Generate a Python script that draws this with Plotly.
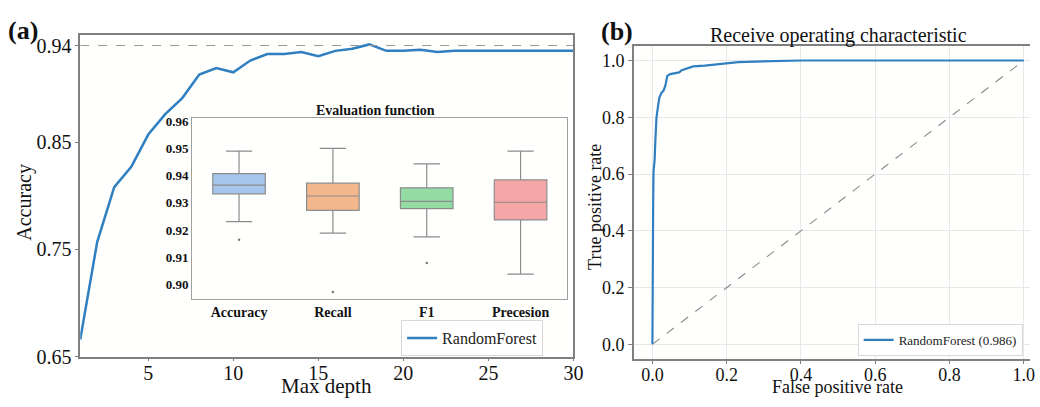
import plotly.graph_objects as go

# ---------------- data ----------------
depth = list(range(1, 31))
accuracy = [0.666, 0.757, 0.808, 0.827, 0.857, 0.876, 0.891, 0.913, 0.919, 0.915,
            0.926, 0.932, 0.932, 0.934, 0.930, 0.935, 0.937, 0.941, 0.935, 0.935,
            0.936, 0.934, 0.935, 0.935, 0.935, 0.935, 0.935, 0.935, 0.935, 0.935]
best_acc = 0.94

metrics = ["Accuracy", "Recall", "F1", "Precesion"]
q1 = [0.9333, 0.9272, 0.9279, 0.9237]
med = [0.9365, 0.9325, 0.9305, 0.9302]
q3 = [0.9407, 0.9372, 0.9355, 0.9384]
lowf = [0.9231, 0.9189, 0.9175, 0.9038]
upf = [0.9490, 0.9500, 0.9443, 0.9490]
outlier_x = ["Accuracy", "Recall", "F1"]
outlier_y = [0.9164, 0.8973, 0.9079]
box_colors = ["#a6c6ec", "#f2b78c", "#93dca4", "#f4a7a6"]

fpr = [0.000, 0.000, 0.002, 0.003, 0.006, 0.008, 0.009, 0.011, 0.016, 0.019,
       0.024, 0.030, 0.035, 0.040, 0.048, 0.061, 0.072, 0.079, 0.097, 0.110,
       0.141, 0.177, 0.209, 0.231, 0.276, 0.338, 0.400, 1.000]
tpr = [0.000, 0.340, 0.490, 0.610, 0.650, 0.720, 0.760, 0.800, 0.848, 0.870,
       0.885, 0.894, 0.912, 0.946, 0.952, 0.955, 0.958, 0.966, 0.972, 0.979,
       0.982, 0.987, 0.990, 0.994, 0.996, 0.998, 1.000, 1.000]
auc_label = "RandomForest (0.986)"

# ---------------- figure ----------------
W, H = 1040, 407
SERIF = "Liberation Serif"
BLUE = "#2f7fc1"
AX = "#808080"


def px(x):
    return x / W


def py(y):
    return 1 - y / H


fig = go.Figure()

# left: accuracy vs depth
fig.add_trace(go.Scatter(x=depth, y=accuracy, mode="lines", name="RandomForest",
                         line=dict(color=BLUE, width=2.5), xaxis="x", yaxis="y",
                         legend="legend"))
fig.add_trace(go.Scatter(x=[1, 30], y=[best_acc, best_acc], mode="lines",
                         line=dict(color="#999999", width=1.2, dash="dash"),
                         showlegend=False, xaxis="x", yaxis="y", hoverinfo="skip"))

# right: ROC
fig.add_trace(go.Scatter(x=fpr, y=tpr, mode="lines", name=auc_label,
                         line=dict(color=BLUE, width=2.2), xaxis="x2", yaxis="y2",
                         legend="legend2"))
fig.add_trace(go.Scatter(x=[0, 1], y=[0, 1], mode="lines",
                         line=dict(color="#8a8a8a", width=1.1, dash="dash"),
                         showlegend=False, xaxis="x2", yaxis="y2", hoverinfo="skip"))

# inset boxplot
for i, m in enumerate(metrics):
    fig.add_trace(go.Box(x=[m], q1=[q1[i]], median=[med[i]], q3=[q3[i]],
                         lowerfence=[lowf[i]], upperfence=[upf[i]],
                         fillcolor=box_colors[i], line=dict(color="#8c8c8c", width=1.2),
                         whiskerwidth=0.5, showlegend=False, xaxis="x3", yaxis="y3"))
fig.add_trace(go.Scatter(x=outlier_x, y=outlier_y, mode="markers",
                         marker=dict(color="#777777", size=2.5),
                         showlegend=False, xaxis="x3", yaxis="y3"))

tick_font = dict(family=SERIF, size=20, color="#111111")
tick_font_r = dict(family=SERIF, size=18, color="#111111")
bold_small = dict(family=SERIF, size=13, color="#111111", weight="bold")

fig.update_layout(
    width=W, height=H,
    margin=dict(l=0, r=0, t=0, b=0),
    paper_bgcolor="#ffffff",
    plot_bgcolor="#fffffe",
    boxmode="overlay", boxgap=0.2,
    xaxis=dict(domain=[px(81), px(579)], range=[1, 30], tickvals=[5, 10, 15, 20, 25, 30],
               showgrid=False, zeroline=False, showline=True, linecolor=AX, linewidth=1.5,
               mirror=True, ticks="outside", ticklen=3, tickcolor=AX, tickfont=tick_font,
               ticklabelstandoff=-5, anchor="y"),
    yaxis=dict(domain=[py(366), py(31)], range=[0.65, 0.95],
               tickvals=[0.65, 0.75, 0.85, 0.94], ticktext=["0.65", "0.75", "0.85", "0.94"],
               showgrid=False, zeroline=False, showline=True, linecolor=AX, linewidth=1.5,
               mirror=True, ticks="outside", ticklen=3, tickcolor=AX, tickfont=tick_font,
               anchor="x"),
    xaxis2=dict(domain=[px(640), 1.0], range=[-0.05, -0.05 + (W - 640) / 375.0],
                tickvals=[0, 0.2, 0.4, 0.6, 0.8, 1.0], ticktext=["0.0", "0.2", "0.4", "0.6", "0.8", "1.0"],
                showgrid=True, gridcolor="#e8e8e8", gridwidth=1, zeroline=False,
                showline=True, linecolor=AX, linewidth=1.5, mirror=True,
                ticks="outside", ticklen=4, tickcolor=AX, tickfont=tick_font_r,
                ticklabelstandoff=-5, anchor="y2"),
    yaxis2=dict(domain=[py(368), py(43)], range=[-0.05, 1.05],
                tickvals=[0, 0.2, 0.4, 0.6, 0.8, 1.0], ticktext=["0.0", "0.2", "0.4", "0.6", "0.8", "1.0"],
                showgrid=True, gridcolor="#e8e8e8", gridwidth=1, zeroline=False,
                showline=True, linecolor=AX, linewidth=1.5, mirror=False,
                ticks="outside", ticklen=4, tickcolor=AX, tickfont=tick_font_r, anchor="x2"),
    xaxis3=dict(domain=[px(194), px(573)], range=[-0.5, 3.5], type="category",
                categoryorder="array", categoryarray=metrics,
                showgrid=False, zeroline=False, showline=True, linecolor="#a0a0a0",
                linewidth=1.2, mirror=True, ticks="", tickfont=dict(family=SERIF, size=14,
                color="#111111", weight="bold"), anchor="y3"),
    yaxis3=dict(domain=[py(306), py(118)], range=[0.8947, 0.961],
                tickvals=[0.90, 0.91, 0.92, 0.93, 0.94, 0.95, 0.96],
                ticktext=["0.90", "0.91", "0.92", "0.93", "0.94", "0.95", "0.96"],
                showgrid=False, zeroline=False, showline=True, linecolor="#a0a0a0",
                linewidth=1.2, mirror=True, ticks="", tickfont=bold_small, anchor="x3"),
    legend=dict(x=px(405), y=py(328), xanchor="left", yanchor="top",
                bgcolor="rgba(255,255,255,0.9)", bordercolor="#d8d8d8", borderwidth=1,
                font=dict(family=SERIF, size=16, color="#222222")),
    legend2=dict(x=px(866), y=py(332), xanchor="left", yanchor="top",
                 bgcolor="rgba(255,255,255,0.9)", bordercolor="#d8d8d8", borderwidth=1,
                 font=dict(family=SERIF, size=13, color="#222222")),
    showlegend=True,
)

ann = [
    dict(text="<b>(a)</b>", x=px(23), y=py(27), size=26),
    dict(text="<b>(b)</b>", x=px(623), y=py(28), size=26),
    dict(text="Receive operating characteristic", x=px(847), y=py(32), size=20),
    dict(text="Max depth", x=px(330), y=py(397), size=21),
    dict(text="False positive rate", x=px(846), y=py(398), size=18),
    dict(text="<b>Evaluation function</b>", x=px(379), y=py(110), size=14),
]
for a in ann:
    fig.add_annotation(text=a["text"], x=a["x"], y=a["y"], xref="paper", yref="paper",
                       xanchor="center", yanchor="middle", showarrow=False,
                       font=dict(family=SERIF, size=a["size"], color="#111111"))
fig.add_annotation(text="Accuracy", x=px(25), y=py(205), xref="paper", yref="paper",
                   xanchor="center", yanchor="middle", showarrow=False, textangle=-90,
                   font=dict(family=SERIF, size=20, color="#111111"))
fig.add_annotation(text="True positive rate", x=px(601), y=py(210), xref="paper", yref="paper",
                   xanchor="center", yanchor="middle", showarrow=False, textangle=-90,
                   font=dict(family=SERIF, size=18, color="#111111"))

fig.write_html(
    "out.html",
    config={"displayModeBar": False},
    post_script=("document.documentElement.style.margin='0';"
                 "document.body.style.margin='0';document.body.style.padding='0';"
                 "document.documentElement.style.overflow='hidden';"
                 "document.body.style.overflow='hidden';"),
)
